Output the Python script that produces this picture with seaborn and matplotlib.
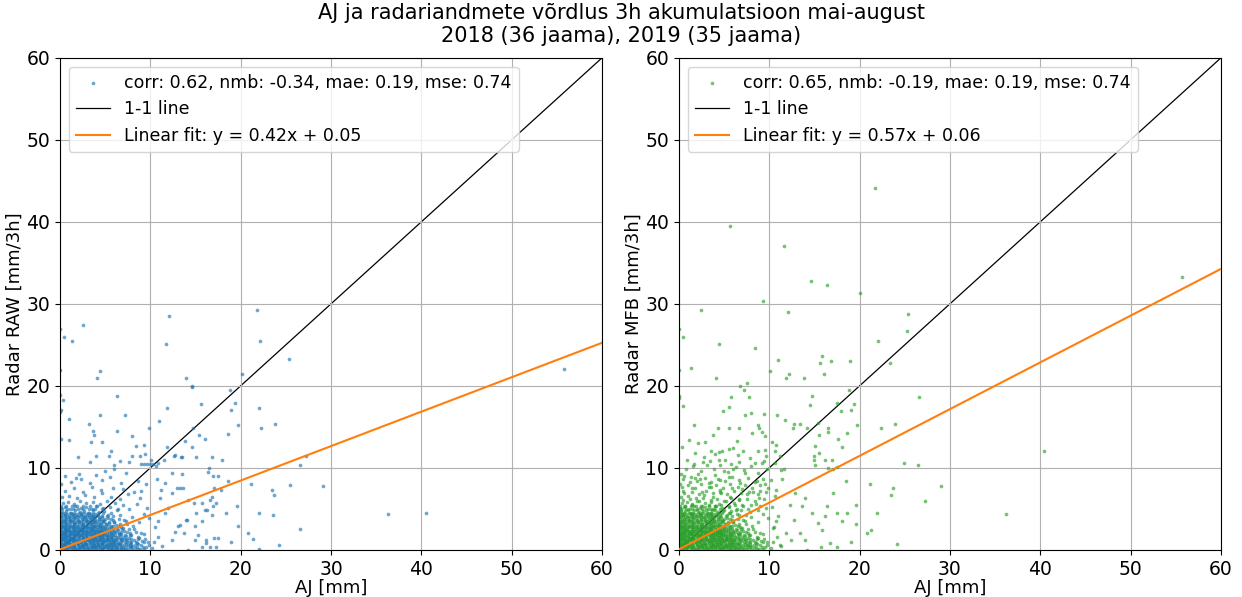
import numpy as np
import pandas as pd
import matplotlib
matplotlib.use("Agg")
import matplotlib.pyplot as plt
import seaborn as sns

# %% data
title = ("AJ ja radariandmete võrdlus 3h akumulatsioon mai-august\n"
         "2018 (36 jaama), 2019 (35 jaama)")
xlabel = "AJ [mm]"
ylabels = ["Radar RAW [mm/3h]", "Radar MFB [mm/3h]"]
stat_labels = [
    "corr: 0.62, nmb: -0.34, mae: 0.19, mse: 0.74",
    "corr: 0.65, nmb: -0.19, mae: 0.19, mse: 0.74",
]
fit_slopes = [0.42, 0.57]
fit_intercepts = [0.05, 0.06]
point_colors = ["C0", "C2"]
axis_ticks = [0, 10, 20, 30, 40, 50, 60]

# dense cloud near the origin (same gauge values in both panels)
core_points = [
    (0.1, 0.2), (0.5, 0.1), (0.9, 0.3), (1.3, 0.2), (1.8, 0.1), (2.2, 0.3), (2.7, 0.2), (3.1, 0.1),
    (3.6, 0.3), (4.0, 0.2), (4.5, 0.1), (4.9, 0.3), (5.4, 0.2), (5.8, 0.1), (6.3, 0.3), (6.7, 0.2),
    (7.2, 0.1), (7.7, 0.3), (8.3, 0.2), (8.9, 0.1), (9.5, 0.3), (10.2, 0.2),
    (0.3, 0.6), (0.7, 0.5), (1.1, 0.7), (1.5, 0.4), (2.0, 0.6), (2.4, 0.5), (2.9, 0.7), (3.3, 0.4),
    (3.8, 0.6), (4.2, 0.5), (4.7, 0.7), (5.1, 0.4), (5.6, 0.6), (6.0, 0.5), (6.5, 0.7), (7.0, 0.4),
    (7.5, 0.6), (8.0, 0.5), (8.6, 0.7), (9.2, 0.4), (9.8, 0.6),
    (0.1, 0.9), (0.6, 1.0), (1.0, 0.8), (1.4, 1.1), (1.9, 0.9), (2.3, 1.0), (2.8, 0.8), (3.2, 1.1),
    (3.7, 0.9), (4.1, 1.0), (4.6, 0.8), (5.0, 1.1), (5.5, 0.9), (5.9, 1.0), (6.4, 0.8), (6.9, 1.1),
    (7.4, 0.9), (7.9, 1.0), (8.5, 0.8), (9.1, 1.1), (9.7, 0.9), (10.4, 1.0),
    (0.2, 1.3), (0.4, 1.4), (0.8, 1.2), (1.2, 1.5), (1.6, 1.3), (2.1, 1.4), (2.5, 1.2), (3.0, 1.5),
    (3.4, 1.3), (3.9, 1.4), (4.3, 1.2), (4.8, 1.5), (5.2, 1.3), (5.7, 1.4), (6.1, 1.2), (6.6, 1.5),
    (7.1, 1.3), (7.6, 1.4), (8.2, 1.2), (8.8, 1.5), (9.4, 1.3),
    (0.1, 1.7), (0.5, 1.8), (0.9, 1.6), (1.3, 1.9), (1.7, 1.7), (2.2, 1.8), (2.6, 1.6), (3.1, 1.9),
    (3.5, 1.7), (4.0, 1.8), (4.4, 1.6), (4.9, 1.9), (5.3, 1.7), (5.8, 1.8), (6.2, 1.6), (6.8, 1.9),
    (7.3, 1.7), (7.9, 1.8), (8.6, 1.6), (9.3, 1.9),
    (0.3, 2.1), (0.7, 2.2), (1.1, 2.0), (1.5, 2.3), (2.0, 2.1), (2.4, 2.2), (2.9, 2.0), (3.3, 2.3),
    (3.8, 2.1), (4.2, 2.2), (4.7, 2.0), (5.1, 2.3), (5.6, 2.1), (6.0, 2.2), (6.5, 2.0), (7.1, 2.3),
    (7.7, 2.1), (8.4, 2.2), (9.0, 2.0),
    (0.1, 2.5), (0.5, 2.6), (0.9, 2.4), (1.4, 2.7), (1.8, 2.5), (2.3, 2.6), (2.7, 2.4), (3.2, 2.7),
    (3.6, 2.5), (4.1, 2.6), (4.5, 2.4), (5.0, 2.7), (5.4, 2.5), (5.9, 2.6), (6.4, 2.4), (7.0, 2.7),
    (7.6, 2.5), (8.2, 2.6),
    (0.2, 2.9), (0.6, 3.0), (1.0, 2.8), (1.5, 3.1), (1.9, 2.9), (2.4, 3.0), (2.8, 2.8), (3.3, 3.1),
    (3.7, 2.9), (4.2, 3.0), (4.6, 2.8), (5.1, 3.1), (5.6, 2.9), (6.2, 3.0), (6.8, 2.8), (7.4, 3.1),
    (8.1, 2.9),
    (0.1, 3.3), (0.4, 3.4), (0.8, 3.2), (1.2, 3.5), (1.7, 3.3), (2.1, 3.4), (2.6, 3.2), (3.0, 3.5),
    (3.5, 3.3), (3.9, 3.4), (4.4, 3.2), (4.9, 3.5), (5.4, 3.3), (6.0, 3.4), (6.6, 3.2), (7.3, 3.5),
    (0.3, 3.7), (0.7, 3.8), (1.1, 3.6), (1.6, 3.9), (2.0, 3.7), (2.5, 3.8), (2.9, 3.6), (3.4, 3.9),
    (3.8, 3.7), (4.3, 3.8), (4.8, 3.6), (5.3, 3.9), (5.9, 3.7), (6.5, 3.8), (7.1, 3.6),
    (0.1, 4.1), (0.5, 4.2), (1.0, 4.0), (1.4, 4.3), (1.9, 4.1), (2.3, 4.2), (2.8, 4.0), (3.2, 4.3),
    (3.7, 4.1), (4.2, 4.2), (4.7, 4.0), (5.3, 4.3), (5.9, 4.1), (6.6, 4.2),
    (0.2, 4.6), (0.7, 4.7), (1.2, 4.5), (1.7, 4.8), (2.2, 4.6), (2.7, 4.7), (3.2, 4.5), (3.7, 4.8),
    (4.3, 4.6), (4.9, 4.7), (5.6, 4.5), (6.3, 4.8),
    (0.1, 5.1), (0.6, 5.2), (1.1, 5.0), (1.7, 5.3), (2.3, 5.1), (2.9, 5.2), (3.5, 5.0), (4.1, 5.3),
    (4.8, 5.1), (5.5, 5.2), (6.4, 5.0),
    (0.3, 5.7), (0.9, 5.8), (1.5, 5.6), (2.2, 5.9), (2.9, 5.7), (3.6, 5.8), (4.4, 5.6), (5.2, 5.9),
    (6.1, 5.7), (7.0, 5.5),
    (0.2, 6.4), (1.0, 6.6), (1.9, 6.3), (2.8, 6.7), (3.8, 6.4), (4.7, 6.9), (5.6, 6.5), (6.6, 6.2),
    (7.5, 6.8), (0.5, 7.2), (1.5, 7.5), (2.6, 7.1), (3.5, 7.7), (4.5, 7.3), (5.9, 7.6), (7.0, 7.4),
    (8.2, 7.0), (0.1, 8.0), (1.2, 8.3), (2.3, 8.6), (3.3, 8.1), (4.6, 8.5), (5.5, 8.9), (6.8, 8.2),
    (8.6, 8.4), (0.6, 9.0), (1.8, 8.8), (2.1, 9.3), (4.0, 9.1), (5.0, 9.6), (6.0, 9.9), (7.3, 9.4),
    (9.5, 8.0), (8.9, 6.3), (9.6, 5.1), (9.9, 3.9), (10.5, 2.8), (10.9, 1.6), (11.3, 0.5), (10.8, 3.5),
    (9.3, 4.4), (8.7, 3.4), (8.0, 4.0), (7.6, 5.0), (8.5, 5.6), (9.0, 7.2),
    (0.3, 0.35), (0.8, 0.25), (1.2, 0.45), (1.7, 0.35), (2.1, 0.25), (2.6, 0.45), (3.0, 0.35),
    (3.5, 0.25), (3.9, 0.45), (4.4, 0.35), (4.8, 0.25), (5.3, 0.45), (5.7, 0.35), (6.2, 0.25),
    (0.2, 0.75), (0.6, 0.85), (1.0, 0.65), (1.5, 0.75), (1.9, 0.85), (2.4, 0.65), (2.8, 0.75),
    (3.3, 0.85), (3.7, 0.65), (4.2, 0.75), (4.6, 0.85), (5.1, 0.65), (5.5, 0.75), (6.0, 0.85),
    (0.4, 1.15), (0.9, 1.05), (1.3, 1.25), (1.8, 1.15), (2.2, 1.05), (2.7, 1.25), (3.1, 1.15),
    (3.6, 1.05), (4.0, 1.25), (4.5, 1.15), (4.9, 1.05), (5.4, 1.25), (5.9, 1.15),
    (0.3, 1.55), (0.7, 1.65), (1.1, 1.45), (1.6, 1.55), (2.0, 1.65), (2.5, 1.45), (2.9, 1.55),
    (3.4, 1.65), (3.8, 1.45), (4.3, 1.55), (4.7, 1.65), (5.2, 1.45), (5.7, 1.55),
    (0.2, 1.95), (0.6, 2.05), (1.0, 1.85), (1.5, 1.95), (1.9, 2.05), (2.4, 1.85), (2.8, 1.95),
    (3.3, 2.05), (3.7, 1.85), (4.2, 1.95), (4.6, 2.05), (5.1, 1.85),
    (0.4, 2.35), (0.8, 2.45), (1.2, 2.25), (1.7, 2.35), (2.1, 2.45), (2.6, 2.25), (3.0, 2.35),
    (3.5, 2.45), (3.9, 2.25), (4.4, 2.35), (4.9, 2.45),
    (0.3, 2.75), (0.7, 2.65), (1.2, 2.85), (1.6, 2.75), (2.1, 2.65), (2.5, 2.85), (3.0, 2.75),
    (3.4, 2.65), (3.9, 2.85), (4.4, 2.75),
]

# extra fill of the saturated part of the cloud: radar value -> gauge values
core_fill_rows = {
    0.15: [0.05, 0.45, 0.95, 1.4, 1.85, 2.35, 2.8, 3.25, 3.75, 4.2, 4.65, 5.15, 5.6, 6.05, 6.55,
           7.0, 7.5, 8.0, 8.6, 9.3],
    0.35: [0.25, 0.7, 1.15, 1.6, 2.1, 2.55, 3.0, 3.5, 3.95, 4.4, 4.9, 5.35, 5.85, 6.3, 6.8, 7.3,
           7.9, 8.5],
    0.55: [0.15, 0.55, 1.0, 1.45, 1.95, 2.4, 2.85, 3.3, 3.8, 4.25, 4.7, 5.2, 5.65, 6.1, 6.6, 7.1,
           7.7, 8.3, 9.0],
    0.75: [0.25, 0.7, 1.15, 1.6, 2.1, 2.55, 3.0, 3.5, 3.95, 4.4, 4.9, 5.35, 5.85, 6.3, 6.8, 7.3,
           7.9],
    0.95: [0.05, 0.5, 0.95, 1.4, 1.9, 2.35, 2.8, 3.3, 3.75, 4.2, 4.7, 5.15, 5.6, 6.1, 6.6, 7.2,
           7.8, 8.4, 9.3],
    1.15: [0.25, 0.7, 1.15, 1.6, 2.1, 2.55, 3.0, 3.5, 3.95, 4.4, 4.9, 5.35, 5.85, 6.3, 6.8, 7.4],
    1.35: [0.1, 0.55, 1.0, 1.45, 1.9, 2.4, 2.85, 3.3, 3.8, 4.25, 4.7, 5.2, 5.65, 6.15, 6.7, 7.3,
           7.9, 8.6],
    1.55: [0.25, 0.7, 1.15, 1.6, 2.1, 2.55, 3.0, 3.5, 3.95, 4.4, 4.9, 5.35, 5.85, 6.4, 7.0],
    1.75: [0.05, 0.5, 0.95, 1.45, 1.9, 2.35, 2.85, 3.3, 3.75, 4.25, 4.7, 5.15, 5.65, 6.1, 6.6,
           7.2, 7.8],
    1.95: [0.25, 0.7, 1.15, 1.6, 2.1, 2.55, 3.0, 3.5, 3.95, 4.4, 4.9, 5.4, 5.9, 6.5],
    2.15: [0.1, 0.55, 1.0, 1.45, 1.9, 2.4, 2.85, 3.3, 3.8, 4.25, 4.7, 5.2, 5.7, 6.2, 6.8, 7.4],
    2.35: [0.25, 0.7, 1.15, 1.6, 2.1, 2.55, 3.0, 3.5, 3.95, 4.4, 4.9, 5.4, 6.0],
    2.55: [0.05, 0.5, 0.95, 1.45, 1.9, 2.35, 2.85, 3.3, 3.75, 4.25, 4.7, 5.2, 5.7, 6.3, 6.9],
    2.75: [0.25, 0.7, 1.15, 1.6, 2.1, 2.55, 3.0, 3.5, 3.95, 4.45, 5.0, 5.6],
    2.95: [0.1, 0.55, 1.0, 1.45, 1.9, 2.4, 2.85, 3.3, 3.8, 4.3, 4.8, 5.3, 5.9, 6.5],
    3.15: [0.25, 0.7, 1.15, 1.6, 2.1, 2.55, 3.0, 3.5, 4.0, 4.55, 5.1],
    3.35: [0.05, 0.5, 0.95, 1.45, 1.9, 2.35, 2.85, 3.3, 3.8, 4.3, 4.8, 5.4, 6.0],
    3.55: [0.25, 0.7, 1.15, 1.6, 2.1, 2.6, 3.1, 3.6, 4.1, 4.7],
    3.75: [0.1, 0.55, 1.0, 1.45, 1.9, 2.4, 2.85, 3.35, 3.85, 4.4, 5.0, 5.6],
    3.95: [0.25, 0.7, 1.2, 1.7, 2.2, 2.7, 3.2, 3.7, 4.3],
    4.15: [0.05, 0.5, 0.95, 1.5, 2.0, 2.5, 3.0, 3.5, 4.0, 4.6, 5.2],
    4.35: [0.3, 0.8, 1.3, 1.8, 2.35, 2.9, 3.4, 3.9],
    4.55: [0.1, 0.6, 1.1, 1.6, 2.1, 2.6, 3.1, 3.6, 4.2, 4.8],
    4.95: [0.2, 0.8, 1.4, 2.0, 2.6, 3.2, 3.9, 4.6],
    5.4: [0.1, 0.7, 1.3, 1.9, 2.6, 3.3, 4.0],
}

raw_outliers = [
    (0.1, 17.0), (0.3, 18.3), (0.0, 18.9), (0.1, 13.5), (1.0, 15.9), (1.0, 13.4), (3.2, 15.4),
    (3.6, 14.5), (3.8, 14.0), (4.4, 16.5), (4.6, 13.2), (3.4, 13.2), (6.3, 18.8), (6.3, 14.5),
    (7.2, 16.4), (8.0, 13.9), (9.8, 14.8), (4.0, 11.5), (5.6, 12.0), (8.4, 12.7), (9.3, 12.8),
    (11.8, 17.3), (11.0, 15.7), (11.9, 12.6), (14.6, 20.0), (15.6, 17.8), (14.7, 14.9), (15.4, 14.0),
    (16.1, 13.5), (0.0, 16.8), (19.4, 17.9), (18.9, 17.0), (19.7, 15.2), (18.6, 14.1), (22.0, 17.3),
    (22.3, 14.8), (23.8, 15.4), (13.8, 13.3), (14.6, 12.6), (15.1, 11.3), (16.8, 11.3), (17.9, 10.9),
    (12.7, 11.6), (13.4, 11.3), (27.2, 11.4), (26.6, 10.3), (29.1, 7.8), (25.5, 7.9), (23.5, 7.3),
    (23.7, 6.7), (23.6, 4.2), (22.0, 4.5), (21.1, 8.0), (20.8, 2.1), (21.4, 1.3), (24.2, 0.6),
    (26.6, 2.5), (36.3, 4.4), (40.5, 4.5), (19.6, 5.4), (19.7, 2.9), (18.4, 4.5), (18.9, 1.0),
    (17.8, 7.3), (16.9, 9.0), (18.6, 8.4), (16.8, 6.4), (16.9, 5.4), (16.0, 4.9), (15.3, 1.8),
    (16.2, 0.8), (17.0, 1.5), (17.3, 0.4), (22.0, 0.1), (15.1, 4.5), (13.9, 3.7), (13.1, 2.9),
    (13.3, 7.6), (13.5, 11.3), (12.6, 11.4), (10.7, 8.6), (10.9, 10.6), (10.0, 10.5), (9.6, 10.5),
    (9.3, 10.5), (9.0, 10.5), (10.3, 10.5), (10.1, 10.9), (10.6, 10.2), (11.5, 10.9), (16.5, 10.0),
    (2.0, 11.3), (5.4, 11.4), (6.6, 10.8), (3.3, 10.7), (6.0, 10.4), (7.6, 10.7), (8.0, 11.4),
    (8.9, 11.4), (9.4, 11.7),
    (0.0, 26.9), (0.4, 26.0), (1.3, 25.5), (2.5, 27.4), (0.0, 21.9), (4.1, 21.0), (4.4, 21.8),
    (11.7, 25.1), (12.1, 28.5), (13.9, 20.9), (14.6, 19.9), (18.8, 19.5), (20.2, 21.5), (21.8, 29.2),
    (22.1, 25.5), (25.4, 23.3), (55.8, 22.0),
    (12.4, 9.4), (13.5, 9.3), (16.4, 9.5), (17.5, 9.0), (17.1, 7.5), (12.4, 6.9), (13.0, 7.6),
    (13.6, 7.5), (14.2, 6.1), (14.8, 5.7), (15.7, 5.7), (16.6, 6.1), (17.3, 5.7), (16.3, 4.9),
    (16.8, 4.2), (15.7, 3.5), (14.9, 2.9), (14.1, 3.6), (13.3, 3.0), (13.7, 2.0), (12.7, 2.2),
    (12.4, 1.2), (12.0, 5.1), (11.6, 4.5), (11.6, 8.2), (11.1, 6.3), (11.2, 7.3), (16.2, 1.2),
    (16.6, 0.3), (15.7, 0.4), (14.2, 0.0), (14.9, 1.2), (17.5, 1.4),
]

# MFB spreads the cloud further upwards
mfb_halo = [
    (0.2, 9.3), (0.8, 9.8), (1.6, 10.2), (2.4, 9.6), (3.1, 10.4), (3.9, 9.9), (4.6, 10.3),
    (5.4, 9.5), (6.3, 10.1), (7.2, 9.7), (8.0, 10.2), (8.8, 9.4), (9.7, 9.9),
    (0.5, 8.6), (1.3, 8.9), (2.0, 8.4), (2.9, 8.8), (3.6, 8.3), (4.3, 8.7), (5.1, 8.4), (5.9, 8.9),
    (6.7, 8.5), (7.6, 8.8), (8.4, 8.3), (9.3, 8.7), (10.2, 8.5),
    (0.3, 7.7), (1.0, 7.9), (1.8, 7.6), (2.5, 8.0), (3.3, 7.7), (4.1, 7.9), (4.9, 7.6), (5.7, 8.0),
    (6.5, 7.7), (7.3, 7.9), (8.1, 7.6), (9.0, 7.9), (9.9, 7.5),
    (0.6, 6.9), (1.4, 7.1), (2.2, 6.8), (3.0, 7.2), (3.8, 6.9), (4.6, 7.1), (5.3, 6.8), (6.1, 7.2),
    (6.9, 6.9), (7.8, 7.1), (8.7, 6.8), (9.6, 7.0), (10.6, 6.6),
    (0.4, 6.1), (1.2, 6.2), (2.0, 6.0), (2.7, 6.3), (3.5, 6.1), (4.2, 6.2), (5.0, 6.0), (5.8, 6.3),
    (6.7, 6.1), (7.5, 6.2), (8.4, 6.0), (9.4, 6.2),
    (0.7, 5.4), (1.5, 5.5), (2.5, 5.3), (3.3, 5.5), (4.0, 5.4), (4.7, 5.5), (5.5, 5.3), (6.2, 5.5),
    (7.1, 5.4), (8.0, 5.5), (9.0, 5.3), (10.3, 5.2),
    (0.2, 4.8), (1.0, 4.9), (2.0, 4.85), (3.0, 4.9), (4.0, 4.85), (5.0, 4.9), (5.8, 4.7),
    (6.9, 4.9), (7.9, 4.6), (8.8, 4.8),
    (0.5, 4.4), (1.5, 4.45), (2.5, 4.4), (3.5, 4.45), (4.5, 4.4), (5.5, 4.45), (6.4, 4.4), (7.4, 4.3),
    (0.9, 10.9), (2.8, 11.3), (4.4, 11.0), (6.5, 11.6), (7.9, 11.2), (9.4, 10.8), (1.8, 11.8),
    (5.5, 12.3), (3.5, 12.1), (0.3, 12.6), (8.8, 12.0),
]

mfb_outliers = [
    (21.7, 44.1), (5.6, 39.5), (11.6, 37.1), (14.6, 32.8), (16.4, 32.3), (9.3, 30.3), (20.1, 31.3),
    (2.5, 29.3), (12.1, 29.0), (25.4, 28.8), (0.0, 26.9), (0.4, 26.0), (25.3, 26.7), (4.4, 25.1),
    (22.0, 25.5), (8.4, 24.6), (1.3, 22.2), (4.1, 21.0), (11.0, 23.1), (15.8, 23.7), (15.6, 22.8),
    (16.8, 23.0), (18.9, 23.0), (23.4, 22.8), (10.1, 21.8), (11.8, 21.0), (12.2, 21.5), (16.1, 21.5),
    (13.8, 20.9), (0.0, 21.9), (6.8, 20.0), (7.5, 20.3), (7.2, 19.5), (18.8, 19.5), (0.0, 18.8),
    (5.8, 18.7), (7.8, 18.6), (14.7, 18.8), (26.6, 18.7), (55.7, 33.3),
    (0.0, 18.5), (0.4, 17.5), (5.5, 17.4), (14.5, 17.7), (17.5, 17.9), (19.4, 17.8), (4.9, 16.9),
    (8.0, 16.7), (7.3, 16.4), (9.4, 16.6), (10.9, 16.5), (17.9, 16.9), (19.0, 17.0), (22.4, 14.8),
    (23.9, 15.4), (19.7, 15.2), (1.7, 15.2), (4.3, 14.8), (5.5, 14.9), (6.7, 14.8), (8.7, 15.2),
    (8.9, 14.8), (9.2, 14.4), (11.7, 15.8), (12.7, 15.4), (13.4, 15.3), (12.6, 14.8), (14.2, 14.8),
    (15.4, 15.5), (16.5, 14.8), (16.5, 14.4), (15.5, 14.0), (18.6, 14.2), (8.1, 14.3), (1.1, 13.4),
    (2.1, 13.0), (2.9, 13.2), (3.8, 14.0), (6.4, 13.3), (9.5, 13.9), (10.3, 13.2), (10.8, 12.8),
    (17.6, 13.5), (18.1, 12.6), (4.4, 11.9), (4.0, 11.7), (4.8, 12.0), (6.0, 12.4), (7.1, 12.1),
    (9.5, 12.2), (9.6, 11.4), (10.6, 12.0), (11.2, 11.4), (14.9, 11.5), (15.5, 11.8), (17.0, 10.9),
    (24.9, 10.6), (26.5, 10.4), (1.7, 10.5), (2.7, 10.7), (3.4, 10.8), (5.1, 10.9), (5.8, 10.5),
    (6.6, 10.7), (8.4, 10.6), (9.2, 10.6), (10.6, 10.6), (11.3, 9.7), (15.1, 10.3), (16.5, 10.0),
    (17.1, 9.8),
    (40.4, 12.0), (36.2, 4.4), (29.0, 7.8), (27.2, 6.0), (23.7, 7.5), (23.5, 6.7), (24.1, 0.7),
    (21.9, 4.5), (21.1, 8.0), (21.3, 2.4), (20.8, 2.1), (19.6, 5.5), (19.6, 3.1), (19.1, 0.9),
    (18.5, 8.4), (17.5, 10.1), (17.1, 6.9), (17.5, 4.5), (18.0, 3.5), (18.6, 4.5), (17.5, 0.4),
    (16.4, 5.3), (16.2, 4.1), (15.8, 2.4), (16.7, 0.8), (15.4, 3.3), (14.7, 4.5), (14.0, 6.3),
    (13.6, 5.3), (12.9, 6.9), (12.3, 5.5), (12.7, 3.7), (13.4, 2.0), (14.0, 1.2), (11.8, 2.0),
    (11.4, 8.6), (11.6, 9.8), (10.7, 7.3), (11.0, 4.1), (10.4, 2.7), (11.2, 0.6), (15.1, 12.7),
    (14.9, 11.0), (16.2, 11.0), (14.2, 0.0), (15.7, 0.4), (12.4, 1.2),
]

core_fill = [(x, y) for y, xs in core_fill_rows.items() for x in xs]
panels = [core_points + core_fill + raw_outliers,
          core_points + core_fill + mfb_halo + mfb_outliers]

# %% plot
plt.rcParams["font.size"] = 13
plt.rcParams["xtick.labelsize"] = 13.5
plt.rcParams["ytick.labelsize"] = 13.5
fig, axes = plt.subplots(1, 2, figsize=(12.42, 5.97), dpi=100)
fig.subplots_adjust(left=0.0483, right=0.983, bottom=0.079, top=0.903, wspace=0.142)

line_x = np.array([axis_ticks[0], axis_ticks[-1]])
for i, ax in enumerate(axes):
    df = pd.DataFrame(panels[i], columns=["AJ", "Radar"])
    ax.plot(line_x, line_x, color="k", lw=0.9, label="1-1 line", zorder=1.5)
    sns.scatterplot(data=df, x="AJ", y="Radar", s=7, alpha=0.65, linewidth=0,
                    color=point_colors[i], label=stat_labels[i], ax=ax, zorder=2)
    ax.plot(line_x, fit_slopes[i] * line_x + fit_intercepts[i], color="C1", lw=1.5,
            label=f"Linear fit: y = {fit_slopes[i]:.2f}x + {fit_intercepts[i]:.2f}", zorder=3)
    ax.set(xlim=(0, 60), ylim=(0, 60), xticks=axis_ticks, yticks=axis_ticks)
    ax.set_xlabel(xlabel, labelpad=0)
    ax.set_ylabel(ylabels[i], labelpad=2)
    ax.grid(True)
    handles, labels = ax.get_legend_handles_labels()
    order = [labels.index(stat_labels[i]), labels.index("1-1 line"),
             [k for k, lab in enumerate(labels) if lab.startswith("Linear")][0]]
    ax.legend([handles[k] for k in order], [labels[k] for k in order],
              loc="upper left", fontsize=12.5)

fig.suptitle(title, fontsize=15, y=0.995)
fig.savefig("out.png", dpi=100)
